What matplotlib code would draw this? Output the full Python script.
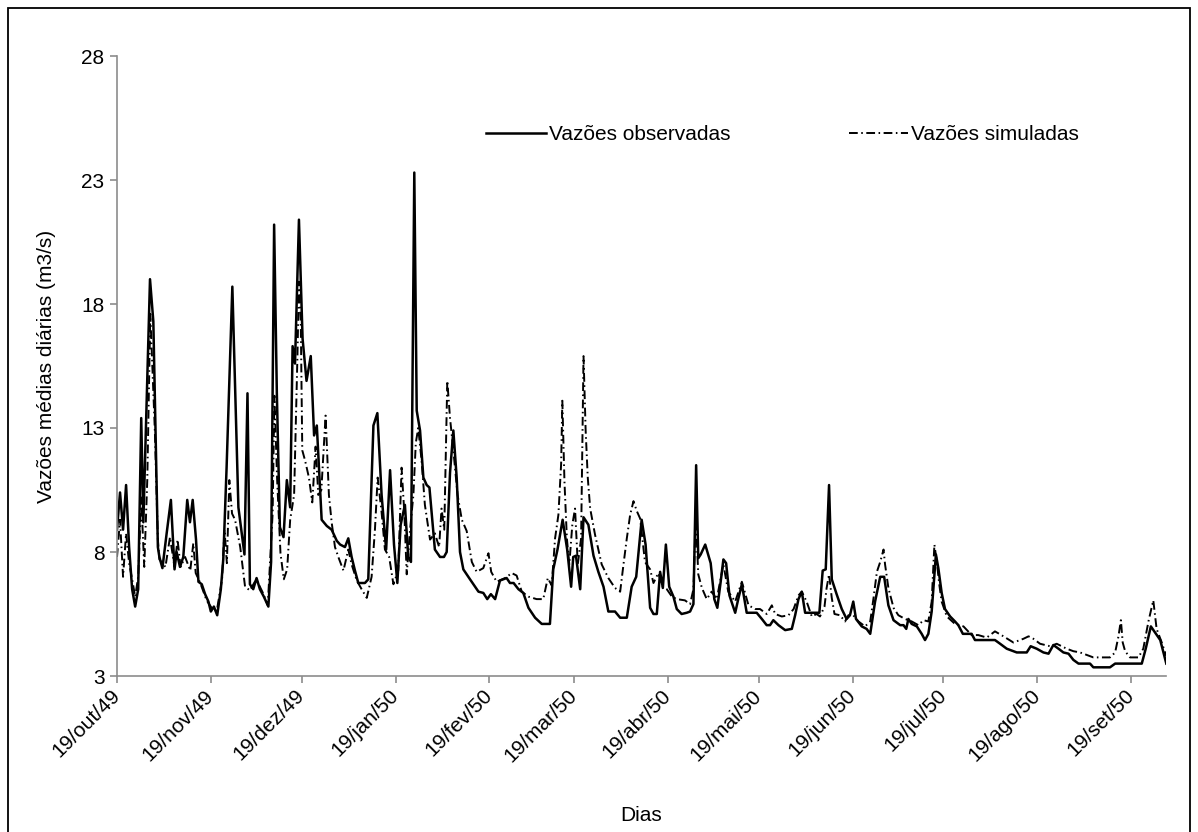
import matplotlib
matplotlib.use("Agg")
import matplotlib.pyplot as plt
import matplotlib.patches as patches
import pandas as pd

# Days counted from 19/out/49, values in m3/s
obs_day = [0, 1, 2, 3, 4, 5, 6, 7, 8, 8.7, 10.9, 12, 13.5, 14, 15, 16.4, 17.8, 19, 19.7,
           20.8, 21.9, 23.2, 24.1, 25, 26.1, 26.9, 28, 29.1, 30.2, 31, 32, 33.1, 34.3,
           35.1, 36.2, 38.1, 40.1, 42.1, 43.1, 43.9, 45, 46.1, 47.2, 48.5, 50, 50.9,
           51.9, 52.8, 53.8, 55, 56.1, 57.2, 58, 58.8, 60.1, 61.3, 62.6, 64, 65.1, 66,
           67.6, 69.3, 70.9, 72.6, 73.7, 75.3, 76.4, 77.5, 78.6, 79.7, 81.9, 83, 84.7,
           86, 87.4, 88.9, 90.2, 91.5, 92.6, 93.7, 95.1, 96.2, 97.1, 98.2, 99, 100.1,
           101.2, 102.3, 103.2, 105, 106.7, 108, 108.9, 110, 111.1, 112.2, 113.3, 114.4,
           116.6, 119.4, 121, 122.3, 123.5, 124.9, 126.5, 128.7, 129.8, 131, 132.6,
           134.2, 135.9, 138.1, 140.3, 143, 144.1, 145.5, 147.2, 148.7, 150, 150.7,
           151.6, 153, 154.1, 155.7, 157.4, 159, 160.7, 162.3, 164.5, 166.2, 168.4, 170,
           171.5, 173.3, 174.6, 176.1, 177.2, 178.3, 179.4, 180.3, 181.3, 182.4, 183.8,
           184.9, 186.5, 188.2, 189.3, 190.4, 191.3, 192, 192.8, 194.3, 196.1, 197.3,
           198.3, 199.4, 200.3, 201.2, 202.3, 204.2, 205.2, 206.4, 208, 211.3, 213,
           214.6, 215.7, 216.8, 218.5, 220.7, 222.9, 224, 225.1, 226.2, 227.3, 232,
           233.1, 234.1, 235.2, 236.1, 237.7, 239.4, 241, 242.1, 243.2, 244.1, 246,
           247.6, 248.8, 250.4, 252.1, 253.4, 254.8, 256.5, 258.7, 259.8, 260.7, 261.4,
           262.5, 264.2, 265.8, 266.9, 268, 269.1, 270.5, 271.3, 272.4, 273.5, 275.2,
           276.8, 277.9, 279.4, 282.3, 283.4, 290, 291.7, 293.9, 297.2, 300.5, 301.8,
           303.8, 306, 307.7, 309.3, 311, 312.6, 314.3, 315.9, 317.6, 321.4, 322.5, 328,
           329.7, 338.5, 339.8, 341.5, 342.9, 344.6, 346.6]
obs_val = [8.9, 10.4, 8.9, 10.7, 8.2, 6.5, 5.8, 6.5, 13.4, 9.2, 19.0, 17.3, 8.2, 7.8, 7.35,
           8.75, 10.1, 7.3, 8.0, 7.4, 7.8, 10.1, 9.2, 10.1, 8.5, 6.8, 6.7, 6.3, 6.0, 5.6,
           5.8, 5.45, 6.5, 7.7, 11.4, 18.7, 9.8, 7.9, 14.4, 6.7, 6.5, 6.95, 6.5, 6.2, 5.8,
           7.6, 21.2, 14.4, 9.0, 8.6, 10.9, 9.8, 16.3, 15.6, 21.4, 16.6, 14.9, 15.9, 12.7,
           13.1, 9.3, 9.05, 8.9, 8.45, 8.3, 8.2, 8.55, 7.8, 7.25, 6.75, 6.75, 6.9, 13.1,
           13.6, 10.3, 8.1, 11.3, 8.3, 6.75, 9.1, 9.9, 7.8, 7.6, 23.3, 13.7, 12.9, 11.0,
           10.7, 10.6, 8.1, 7.8, 7.8, 8.0, 11.2, 12.9, 11.0, 8.0, 7.3, 6.9, 6.4, 6.35,
           6.1, 6.3, 6.1, 6.85, 6.95, 6.75, 6.75, 6.5, 6.35, 5.75, 5.35, 5.1, 5.1, 7.3,
           8.1, 9.3, 8.1, 6.6, 7.8, 7.85, 6.5, 9.4, 9.1, 7.85, 7.2, 6.6, 5.6, 5.6, 5.35,
           5.35, 6.6, 7.0, 9.3, 8.3, 5.75, 5.5, 5.5, 7.2, 6.55, 8.3, 6.6, 6.2, 5.7, 5.5,
           5.55, 5.6, 5.9, 11.5, 7.75, 7.9, 8.3, 7.55, 6.1, 5.75, 6.8, 7.7, 7.55, 6.25,
           5.55, 6.1, 6.7, 5.55, 5.55, 5.3, 5.05, 5.05, 5.25, 5.05, 4.85, 4.9, 5.45, 6.1,
           6.4, 5.55, 5.55, 7.25, 7.3, 10.7, 6.9, 6.3, 5.7, 5.3, 5.45, 6.0, 5.3, 5.0,
           4.9, 4.7, 6.0, 7.0, 7.0, 5.85, 5.25, 5.05, 5.05, 4.9, 5.3, 5.1, 5.0, 4.7,
           4.45, 4.7, 5.6, 7.9, 7.35, 6.35, 5.7, 5.4, 5.2, 5.05, 4.7, 4.7, 4.45, 4.45,
           4.3, 4.1, 3.95, 3.95, 4.2, 4.1, 3.95, 3.9, 4.25, 4.1, 3.95, 3.9, 3.65, 3.5,
           3.5, 3.35, 3.35, 3.5, 3.5, 4.1, 5.0, 4.75, 4.45, 3.5]

sim_day = [0, 1, 2, 3, 4, 5, 6, 7, 8, 9, 10, 11, 12.5, 13.5, 14, 16, 17.5, 19, 20, 21,
           22.5, 24.2, 25.2, 26, 27.5, 29.6, 31.8, 33, 34.7, 35.5, 36.3, 37.1, 38, 39,
           40.7, 42.3, 43.9, 46, 48.2, 49.8, 51.4, 52, 52.9, 54, 55.1, 56.2, 57.2, 58.5,
           59.6, 60.1, 60.7, 61.2, 62.1, 63.4, 64.5, 65.6, 66.5, 67.5, 68.9, 70, 70.9,
           72, 73.1, 74.8, 76.4, 77.5, 79.2, 80.8, 82.5, 84.1, 85.2, 86.1, 87.4, 88.5,
           89.9, 91.3, 92.9, 94, 94.9, 95.7, 96.8, 97.9, 98.7, 99.5, 100.6, 101.7, 103.4,
           105, 106.4, 107.2, 108.1, 109.1, 110, 111.1, 112.5, 113.9, 115.5, 117.2,
           118.8, 121, 122.7, 123.6, 125.4, 128.2, 130.4, 132, 133.7, 135.9, 138.6,
           140.8, 142.3, 143.6, 144.7, 145.8, 146.7, 147.1, 147.8, 148.6, 149.4, 150.4,
           151.3, 152.2, 153.3, 154.1, 154.8, 155.5, 156.3, 157.9, 160.1, 162.3, 164.5,
           166.2, 167.3, 168.4, 169.5, 170.6, 171.7, 172.8, 174.4, 176.1, 177.2, 178.8,
           180.3, 181.6, 183.3, 184.9, 187.6, 189.3, 190.4, 191.2, 192, 193.2, 194.8,
           196.4, 198.1, 200.3, 201.9, 204.2, 206.4, 208.6, 210.8, 212.4, 214.6, 216.3,
           217.4, 219.6, 221.8, 223.5, 225.1, 226.2, 227.8, 229.5, 231.1, 232.2, 233.7,
           234.4, 235.2, 236.1, 237, 238.8, 240.5, 241.6, 243.2, 244.9, 247.1, 248.8,
           249.9, 251, 252.1, 253.2, 253.7, 254.8, 256.5, 258.1, 260.3, 262.5, 264.7,
           266.4, 268, 269.1, 270, 270.8, 271.6, 272.4, 274.1, 276.8, 279.6, 282.3,
           284.5, 287.3, 290, 292.8, 296.1, 299.4, 301.1, 302.7, 304.9, 308.2, 310.4,
           313.7, 315.9, 318.1, 322.5, 328, 329.7, 330.8, 331.6, 332.2, 333, 334.6,
           337.4, 339, 340.7, 342.3, 343.4, 345.1, 346.6]
sim_val = [7.8, 9.3, 7.0, 8.75, 7.55, 6.9, 6.2, 7.0, 10.2, 7.4, 10.9, 17.6, 12.9, 8.5, 7.7,
           7.4, 8.6, 7.4, 8.5, 7.4, 7.8, 7.25, 8.35, 7.15, 6.75, 6.05, 5.65, 5.65, 6.9,
           8.9, 7.55, 10.9, 9.55, 9.3, 8.2, 6.6, 6.45, 6.9, 6.35, 5.85, 9.55, 14.3, 10.9,
           7.95, 6.9, 7.3, 9.3, 10.3, 15.9, 18.9, 17.3, 12.1, 11.7, 11.0, 10.0, 12.25,
           10.3, 10.5, 13.5, 10.3, 9.2, 8.2, 7.8, 7.25, 8.1, 7.5, 6.85, 6.5, 6.15, 7.0,
           8.9, 11.0, 9.6, 8.1, 7.8, 6.7, 7.25, 11.4, 9.6, 7.1, 8.9, 10.3, 12.4, 13.0,
           11.7, 9.9, 8.5, 8.75, 8.2, 9.75, 8.9, 14.9, 13.4, 12.1, 10.3, 9.3, 8.85, 7.6,
           7.2, 7.35, 7.95, 7.2, 6.8, 6.95, 7.15, 7.05, 6.4, 6.2, 6.1, 6.1, 6.95, 6.65,
           8.55, 9.5, 11.55, 14.1, 10.85, 8.55, 7.5, 9.1, 9.75, 7.5, 8.55, 15.9, 12.9,
           11.0, 9.75, 8.7, 7.5, 6.95, 6.55, 6.4, 7.5, 8.55, 9.5, 10.05, 9.65, 9.35, 7.6,
           7.3, 6.75, 7.15, 6.6, 6.5, 6.2, 6.1, 6.05, 5.9, 6.5, 9.4, 7.1, 6.55, 6.1, 6.4,
           6.1, 7.5, 6.4, 6.0, 6.8, 5.85, 5.7, 5.7, 5.5, 5.85, 5.5, 5.4, 5.45, 5.7, 6.25,
           6.4, 6.0, 5.4, 5.5, 5.4, 5.8, 6.55, 7.1, 6.15, 5.5, 5.45, 5.2, 5.45, 5.45, 5.2,
           5.0, 5.2, 6.15, 7.2, 7.6, 8.1, 7.5, 6.55, 5.75, 5.45, 5.3, 5.2, 5.05, 5.25,
           5.2, 6.0, 8.3, 7.6, 6.7, 6.0, 5.4, 5.1, 5.0, 4.65, 4.65, 4.55, 4.8, 4.6, 4.35,
           4.5, 4.6, 4.5, 4.3, 4.2, 4.3, 4.1, 4.0, 3.95, 3.75, 3.75, 3.95, 4.6, 5.25,
           4.35, 4.0, 3.75, 3.75, 4.1, 5.2, 6.05, 4.9, 4.35, 3.8]

tick_labels = ["19/out/49", "19/nov/49", "19/dez/49", "19/jan/50", "19/fev/50",
               "19/mar/50", "19/abr/50", "19/mai/50", "19/jun/50", "19/jul/50",
               "19/ago/50", "19/set/50"]
y_ticks = [3, 8, 13, 18, 23, 28]

start = pd.Timestamp("1949-10-19")
obs_dates = start + pd.to_timedelta(obs_day, unit="D")
sim_dates = start + pd.to_timedelta(sim_day, unit="D")
tick_dates = [start + pd.DateOffset(months=i) for i in range(len(tick_labels))]

plt.rcParams["font.family"] = ["Liberation Sans", "DejaVu Sans"]
grey = "#8c8c8c"
fs = 15

fig = plt.figure(figsize=(11.98, 8.32), dpi=100)
ax = fig.add_axes([117 / 1198, 1 - 676 / 832, (1166 - 117) / 1198, (676 - 56) / 832])

ax.plot(obs_dates, obs_val, color="black", lw=1.8, label="Vazões observadas")
ax.plot(sim_dates, sim_val, color="black", lw=1.4, dashes=(4.5, 1.8, 0.8, 1.8),
        label="Vazões simuladas")

ax.set_xlim(start, start + pd.Timedelta(days=346.5))
ax.set_ylim(3, 28)
ax.set_yticks(y_ticks)
ax.set_xticks(tick_dates)
ax.set_xticklabels(tick_labels, rotation=45, ha="right", va="center",
                   rotation_mode="anchor")

for side in ["top", "right"]:
    ax.spines[side].set_visible(False)
for side in ["left", "bottom"]:
    ax.spines[side].set_color(grey)
    ax.spines[side].set_linewidth(1.2)
ax.tick_params(axis="both", colors=grey, labelcolor="black", labelsize=fs,
               length=5, width=1.2, direction="out")
ax.tick_params(axis="x", pad=7)
ax.tick_params(axis="y", pad=4)

ax.set_ylabel("Vazões médias diárias (m3/s)", fontsize=fs)
ax.set_xlabel("Dias", fontsize=fs)
ax.yaxis.set_label_coords(-0.058, 0.5)
ax.xaxis.set_label_coords(0.5, -0.21)

ax.legend(loc="center left", bbox_to_anchor=(0.352, 0.873), ncol=2, frameon=False,
          fontsize=fs, handlelength=2.85, handletextpad=0.15, columnspacing=5.7,
          borderpad=0, borderaxespad=0)

# outer chart border
fig.patches.append(patches.Rectangle((8 / 1198, -0.01), (1190 - 8) / 1198, (832 - 8) / 832 + 0.01,
                                     transform=fig.transFigure, fill=False,
                                     edgecolor="black", lw=1.3))

fig.savefig("out.png", dpi=100)
